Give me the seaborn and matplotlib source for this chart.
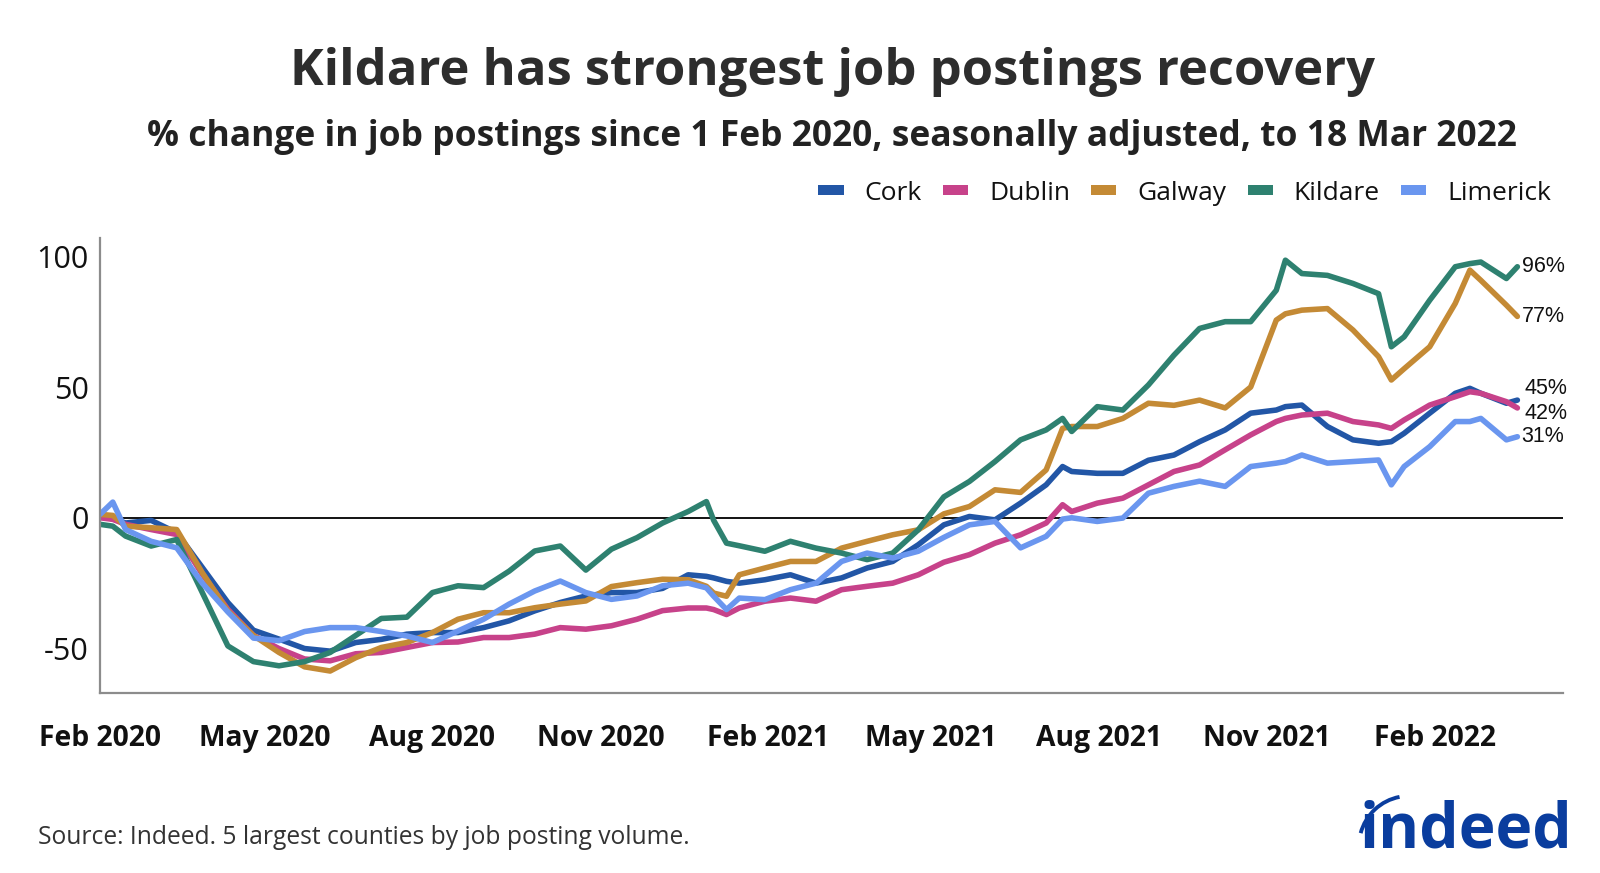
import matplotlib
matplotlib.use("Agg")
import matplotlib.pyplot as plt
import matplotlib.dates as mdates
from matplotlib.patches import Arc
from matplotlib.lines import Line2D
import seaborn as sns
import pandas as pd

# ---------------- data ----------------
dates = [
    "2020-02-01", "2020-02-08", "2020-02-15", "2020-02-29", "2020-03-14", "2020-03-28",
    "2020-04-11", "2020-04-25", "2020-05-09", "2020-05-23", "2020-06-06", "2020-06-20",
    "2020-07-04", "2020-07-18", "2020-08-01", "2020-08-15", "2020-08-29", "2020-09-12",
    "2020-09-26", "2020-10-10", "2020-10-24", "2020-11-07", "2020-11-21", "2020-12-05",
    "2020-12-19", "2020-12-29", "2021-01-02", "2021-01-09", "2021-01-16", "2021-01-30",
    "2021-02-13", "2021-02-27", "2021-03-13", "2021-03-27", "2021-04-10", "2021-04-24",
    "2021-05-08", "2021-05-22", "2021-06-05", "2021-06-19", "2021-07-03", "2021-07-12",
    "2021-07-17", "2021-07-31", "2021-08-14", "2021-08-28", "2021-09-11", "2021-09-25",
    "2021-10-09", "2021-10-23", "2021-11-06", "2021-11-11", "2021-11-20", "2021-12-04",
    "2021-12-18", "2022-01-01", "2022-01-08", "2022-01-15", "2022-01-29", "2022-02-12",
    "2022-02-20", "2022-02-26", "2022-03-12", "2022-03-18",
]

cork = [
    0.6, -0.4, -2, -1, -5.7, -19, -32.4, -43, -46.4, -50, -51, -47.7,
    -46.5, -44.5, -43.9, -43.9, -42, -39.4, -35.6, -32.4, -29.9, -28.6, -28.6, -27,
    -21.8, -22.4, -23, -24.3, -25, -23.7, -21.8, -25, -23, -19.2, -16.7, -10.3,
    -2.7, 0.5, -0.8, 5.6, 12.6, 19.6, 17.7, 17, 17, 22, 24, 29.1,
    33.6, 40, 41.2, 42.5, 43.1, 34.9, 29.8, 28.5, 29.1, 32.3, 40, 47.6,
    49.5, 47.6, 43.8, 45,
]

dublin = [
    0, -0.6, -2.5, -4.5, -6.4, -21.6, -35, -45, -50, -54, -54.7, -52,
    -51.5, -49.6, -47.7, -47.5, -45.8, -45.8, -44.5, -42, -42.6, -41.3, -38.8, -35.5,
    -34.5, -34.5, -35.1, -37, -34.5, -31.9, -30.7, -31.9, -27.5, -26.2, -25, -21.8,
    -17, -14.1, -9.7, -6.5, -2, 5, 2.4, 5.6, 7.5, 12.6, 17.7, 20.2,
    26, 31.7, 36.8, 38, 39.3, 40, 36.8, 35.5, 34.2, 37.4, 43.1, 46.3,
    48.2, 47.6, 44.4, 42,
]

galway = [
    1.3, 0.9, -3.2, -3.8, -4.5, -21, -35.6, -45, -51.5, -57, -58.6, -53.5,
    -49.6, -47.7, -43.9, -38.8, -36.3, -36.3, -34.4, -33, -31.8, -26.3, -24.8, -23.5,
    -23.7, -26.2, -28.8, -30, -21.8, -19.2, -16.7, -16.7, -11.6, -9, -6.5, -4.6,
    1.5, 4.3, 10.7, 9.7, 18.3, 34.2, 34.9, 34.9, 38, 43.8, 43, 45,
    42, 50, 75.6, 78, 79.4, 80, 71.8, 61.6, 52.7, 57, 65.4, 82,
    94.7, 90.8, 81.3, 77,
]

kildare = [
    -2.5, -3.2, -7, -10.8, -8.3, -28.6, -49, -55, -56.6, -55, -51.5, -45,
    -38.5, -38, -28.6, -26, -26.7, -20.4, -12.7, -10.8, -20, -12, -7.6, -2,
    2.4, 6.2, -1, -9.7, -10.7, -12.8, -9, -11.6, -13.5, -16, -13.5, -4.6,
    8, 13.9, 21.5, 29.8, 33.6, 38, 33, 42.5, 41.2, 50.8, 62.2, 72.4,
    75, 75, 87, 98.5, 93.4, 92.7, 89.6, 85.7, 65.4, 69.2, 83.2, 96,
    97.2, 97.8, 91.5, 96,
]

limerick = [
    1.3, 6, -4.5, -9, -11.5, -25, -36, -46, -47, -43.5, -42, -42,
    -43.5, -45.2, -47.7, -43.3, -38.8, -33, -28, -24.2, -28.6, -31.2, -29.9, -26,
    -25, -26.8, -30, -35.1, -30.7, -31.3, -27.5, -25, -16.7, -13.5, -15.4, -12.8,
    -7.5, -2.7, -1.4, -11.5, -7.1, -0.5, 0, -1.4, -0.1, 9.4, 12, 14,
    12, 19.6, 20.9, 21.5, 24, 20.9, 21.5, 22.1, 12.6, 19.6, 27.2, 36.8,
    36.8, 38, 29.8, 31,
]

counties = ["Cork", "Dublin", "Galway", "Kildare", "Limerick"]
colors = ["#2256a6", "#c7428a", "#c48a35", "#2e8170", "#6a96ef"]

title = "Kildare has strongest job postings recovery"
subtitle = "% change in job postings since 1 Feb 2020, seasonally adjusted, to 18 Mar 2022"
source = "Source: Indeed. 5 largest counties by job posting volume."

# ---------------- build table ----------------
wide = pd.DataFrame({"date": pd.to_datetime(dates), "Cork": cork, "Dublin": dublin,
                     "Galway": galway, "Kildare": kildare, "Limerick": limerick})
df = wide.melt(id_vars="date", var_name="county", value_name="value")

sns.set_theme(style="white")
plt.rcParams["font.family"] = ["Open Sans", "DejaVu Sans"]

fig = plt.figure(figsize=(16, 8.73), dpi=100)
ax = fig.add_axes([0.0625, 0.2062, 0.9144, 0.5212])

palette = dict(zip(counties, colors))
sns.lineplot(data=df, x="date", y="value", hue="county", hue_order=counties,
             palette=palette, linewidth=4.0, ax=ax, legend=False,
             solid_joinstyle="round", solid_capstyle="round")

ax.axhline(0, color="black", lw=1.3, zorder=1)

ax.set_ylim(-67, 107)
ax.set_xlim(pd.Timestamp("2020-02-01"), pd.Timestamp("2022-04-12"))
ax.set_yticks([-50, 0, 50, 100])
ax.set_yticklabels(["-50", "0", "50", "100"])
ax.xaxis.set_major_locator(mdates.MonthLocator(bymonth=[2, 5, 8, 11]))
ax.xaxis.set_major_formatter(mdates.DateFormatter("%b %Y"))
ax.set_xlabel("")
ax.set_ylabel("")
ax.tick_params(axis="y", length=0, pad=8, labelsize=22, labelcolor="#111111")
ax.tick_params(axis="x", length=0, pad=22, labelsize=20.3, labelcolor="#111111")
for lab in ax.get_xticklabels():
    lab.set_fontweight("bold")

for s in ["top", "right"]:
    ax.spines[s].set_visible(False)
for s in ["left", "bottom"]:
    ax.spines[s].set_color("#8c8c8c")
    ax.spines[s].set_linewidth(1.6)

# end labels
end_date = wide["date"].iloc[-1]
offsets = {"Cork": 8, "Dublin": -4}
for c, col in zip(counties, colors):
    v = wide[c].iloc[-1]
    ax.annotate(f"{v:.0f}%", xy=(end_date, v), xytext=(3 + (2 if c in offsets else 0), offsets.get(c, 0)),
                textcoords="offset points", va="center", ha="left",
                fontsize=15.5, family=["Liberation Sans", "DejaVu Sans"], color="#111111",
                annotation_clip=False)

# legend
handles = [Line2D([0], [0], color=col, lw=7.2, solid_capstyle="butt") for col in colors]
fig.legend(handles, counties, ncol=5, loc="center right",
           bbox_to_anchor=(0.9694, 1 - 193 / 873), bbox_transform=fig.transFigure,
           frameon=False, fontsize=19, handlelength=0.95, handletextpad=0.8,
           columnspacing=0.8, borderpad=0, borderaxespad=0, labelcolor="#111111")

# titles
fig.text(0.52, 1 - 72 / 873, title, ha="center", va="center", fontsize=36.5,
         fontweight="bold", color="#2d2d2d")
fig.text(0.52, 1 - 137 / 873, subtitle, ha="center", va="center", fontsize=25.5,
         fontweight="bold", color="#222222")

# source
fig.text(38 / 1600, 1 - 837 / 873, source, ha="left", va="center", fontsize=17.7,
         color="#333333")

# logo
logo_blue = "#0a3d9e"
fig.text(1360 / 1600, 1 - 847 / 873, "indeed", ha="left", va="baseline", fontsize=45,
         fontweight="bold", color=logo_blue)
r = 50
fig.add_artist(Arc((1409 / 1600, 1 - 846 / 873), 2 * r / 1600, 2 * r / 873,
                   theta1=96, theta2=154, color=logo_blue, lw=2.8,
                   transform=fig.transFigure))

fig.savefig("out.png", dpi=100)
